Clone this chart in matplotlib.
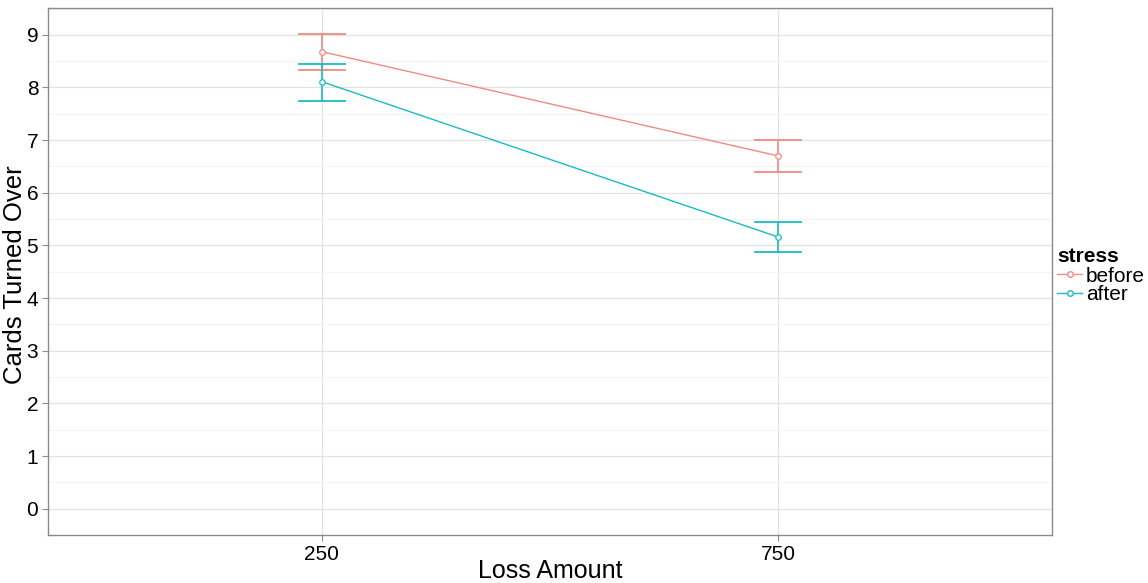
import matplotlib.pyplot as plt
from matplotlib.lines import Line2D

plt.rcParams["font.family"] = ["Liberation Sans", "DejaVu Sans"]

# data
loss_amounts = ["250", "750"]
before_mean = [8.68, 6.70]
before_lo = [8.34, 6.39]
before_hi = [9.01, 7.01]
after_mean = [8.11, 5.16]
after_lo = [7.75, 4.88]
after_hi = [8.45, 5.45]

red = "#F08A82"
teal = "#1BBBC0"

fig = plt.figure(figsize=(11.48, 5.83), dpi=100)
ax = fig.add_axes([48 / 1148, 1 - 535 / 583, (1052 - 48) / 1148, (535 - 8) / 583])

xpos = [1, 2]

for mean, lo, hi, col in [(before_mean, before_lo, before_hi, red),
                          (after_mean, after_lo, after_hi, teal)]:
    ax.plot(xpos, mean, color=col, lw=1.0, zorder=3)
    ax.plot(xpos, mean, "o", ms=4, mfc="white", mec=col, mew=0.9, zorder=4)
    for x, l, h in zip(xpos, lo, hi):
        ax.plot([x, x], [l, h], color=col, lw=1.2, zorder=3)
        ax.plot([x - 0.05, x + 0.05], [l, l], color=col, lw=1.3, zorder=3)
        ax.plot([x - 0.05, x + 0.05], [h, h], color=col, lw=1.3, zorder=3)

ax.set_xlim(0.4, 2.6)
ax.set_ylim(-0.45, 9.51)
ax.set_xticks(xpos)
ax.set_xticklabels(loss_amounts)
ax.set_yticks(range(0, 10))
ax.set_yticks([i + 0.5 for i in range(-1, 10)], minor=True)
ax.tick_params(axis="y", which="minor", length=0)

ax.grid(True, which="major", color="#e3e3e3", lw=0.9)
ax.grid(True, which="minor", axis="y", color="#f3f3f3", lw=0.6)
ax.set_axisbelow(True)

for s in ax.spines.values():
    s.set_color("#8a8a8a")
    s.set_linewidth(1.0)
ax.tick_params(axis="both", which="major", colors="#8a8a8a", length=4,
               labelsize=15, labelcolor="black", pad=3)

ax.set_xlabel("Loss Amount", fontsize=18, va="baseline")
ax.xaxis.set_label_coords(0.5, (535 - 578) / 527)
ax.set_ylabel("Cards Turned Over", fontsize=18.5, va="center")
ax.yaxis.set_label_coords((15 - 48) / 1004, (535 - 275) / 527)

handles = [
    Line2D([], [], color=red, lw=1.0, marker="o", ms=4, mfc="white", mec=red),
    Line2D([], [], color=teal, lw=1.0, marker="o", ms=4, mfc="white", mec=teal),
]
leg = fig.legend(handles, ["before", "after"], title="stress",
                 loc="center left", bbox_to_anchor=(1057 / 1148, 1 - 276 / 583),
                 frameon=False, fontsize=15, title_fontsize=15,
                 handlelength=1.2, handletextpad=0.2, labelspacing=0.0,
                 borderpad=0.0, borderaxespad=0)
leg.get_title().set_fontweight("bold")
leg._legend_box.align = "left"

fig.savefig("out.png", dpi=100)
